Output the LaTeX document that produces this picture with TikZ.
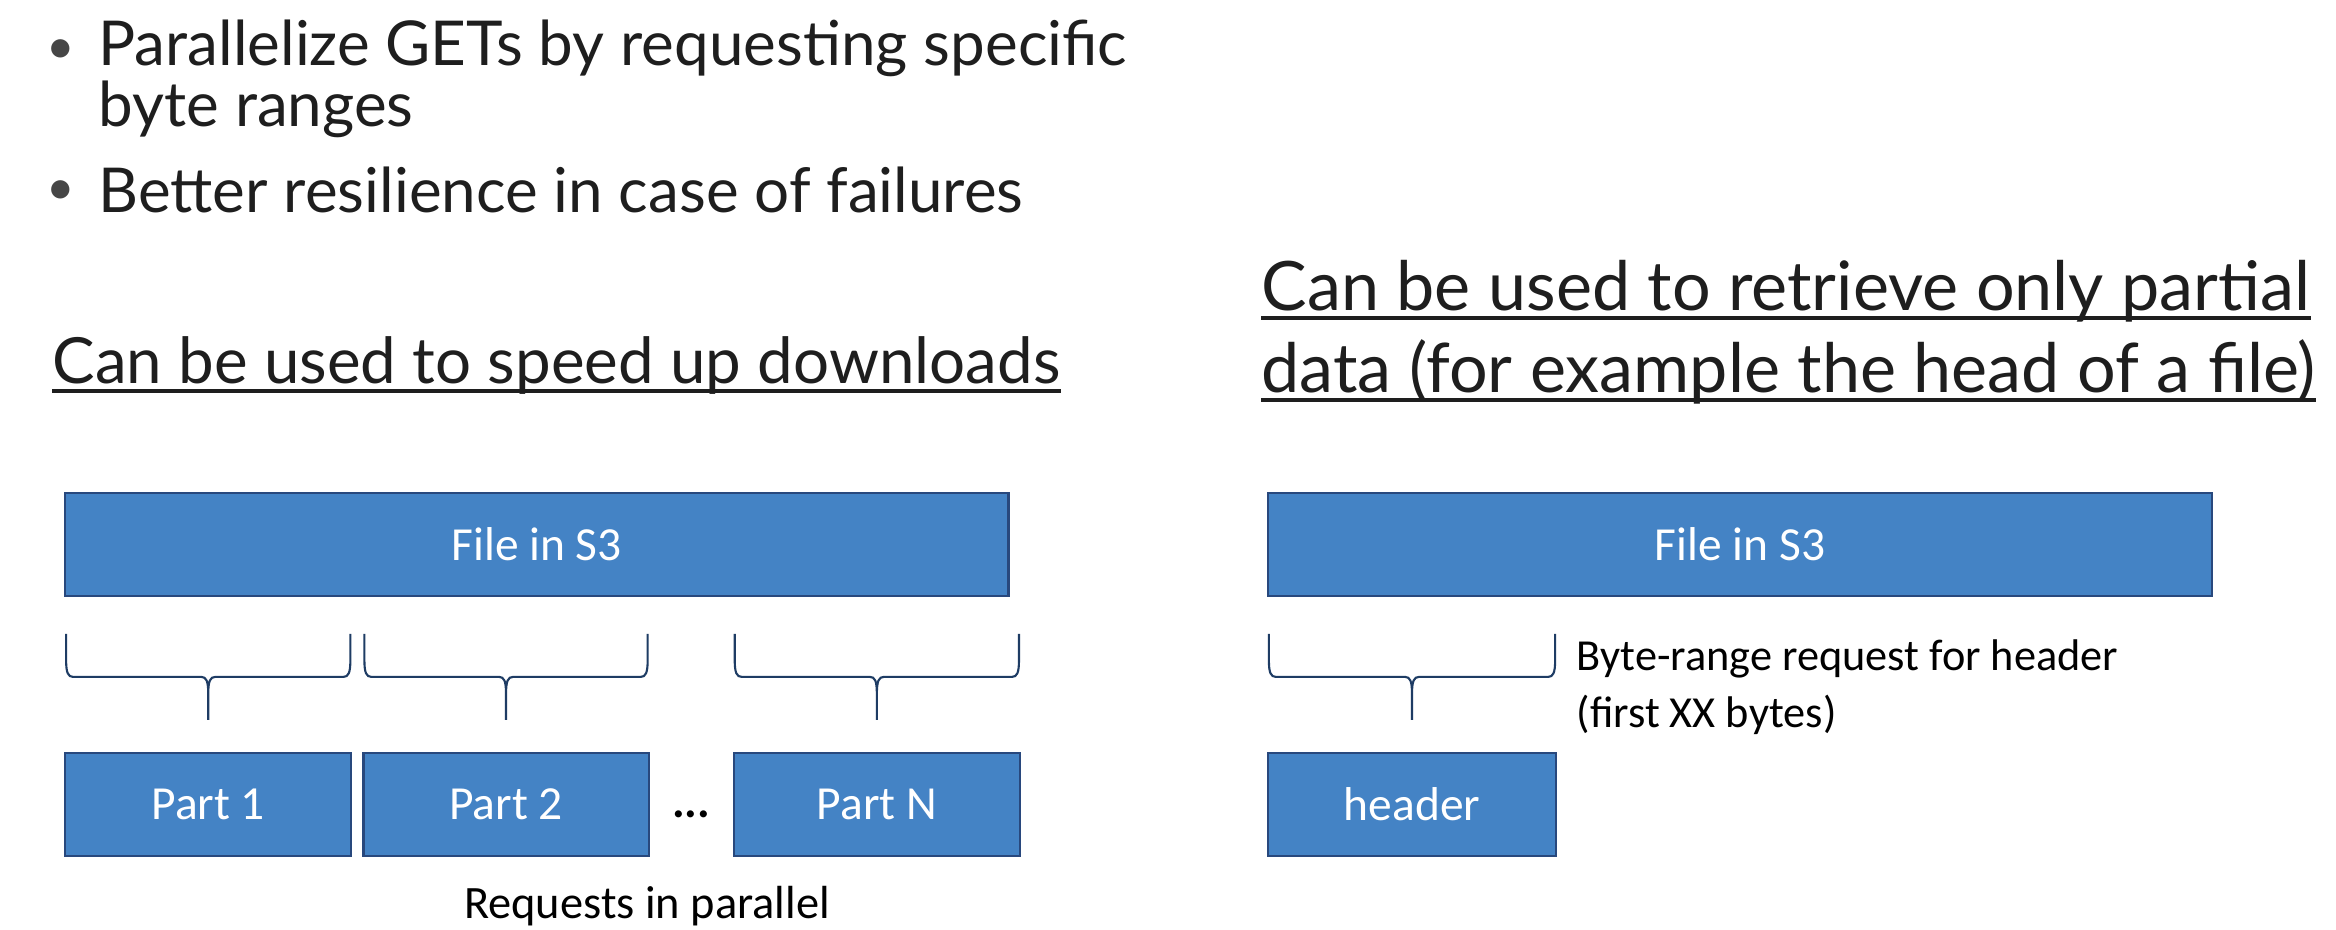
\documentclass[tikz,border=0pt]{standalone}
\usepackage{fontspec}
\setmainfont{Carlito}
\newfontfamily\slidefont{Lato}
\usetikzlibrary{positioning,calc}
\definecolor{boxfill}{RGB}{68,131,197}
\definecolor{boxline}{RGB}{40,72,125}
\definecolor{braceline}{RGB}{30,60,100}
\definecolor{slidetext}{RGB}{30,30,30}
\definecolor{bulletgrey}{RGB}{70,70,70}

\tikzset{
  s3box/.style={draw=boxline, line width=0.6pt, fill=boxfill, text=white,
    minimum height=1.03cm, inner sep=0pt, font=\fontsize{13.5}{16}\selectfont},
  bullettext/.style={anchor=base west, inner sep=0pt, text=slidetext, align=left,
    font=\slidefont\fontsize{17.6}{15.6}\selectfont},
  bulletdot/.style={anchor=base, inner sep=0pt, text=bulletgrey,
    font=\slidefont\fontsize{14}{14}\selectfont},
  headtext/.style={anchor=base west, inner sep=0pt, text=slidetext,
    font=\slidefont\fontsize{18.1}{18}\selectfont},
  bigheadtext/.style={headtext, font=\slidefont\fontsize{19.4}{19}\selectfont},
  ulline/.style={draw=slidetext, line width=1.1pt},
  bracepath/.style={draw=braceline, line width=0.6pt},
  note/.style={anchor=base west, inner sep=0pt, text=black,
    font=\fontsize{13.2}{16}\selectfont}
}

% curly brace standing over a part box
\newcommand{\rangebrace}[1]{%
  \draw[bracepath] let \p1=(#1.north west), \p2=(#1.north east), \p3=(#1.north) in
    (\x1+0.02cm,\y1+1.18cm) -- (\x1+0.02cm,\y1+0.92cm)
    .. controls (\x1+0.02cm,\y1+0.79cm) and (\x1+0.04cm,\y1+0.75cm) .. (\x1+0.09cm,\y1+0.75cm)
    -- (\x3-0.07cm,\y1+0.75cm)
    .. controls (\x3-0.02cm,\y1+0.75cm) and (\x3,\y1+0.71cm) .. (\x3,\y1+0.58cm)
    -- (\x3,\y1+0.32cm) -- (\x3,\y1+0.58cm)
    .. controls (\x3,\y1+0.71cm) and (\x3+0.02cm,\y1+0.75cm) .. (\x3+0.07cm,\y1+0.75cm)
    -- (\x2-0.09cm,\y1+0.75cm)
    .. controls (\x2-0.04cm,\y1+0.75cm) and (\x2-0.02cm,\y1+0.79cm) .. (\x2-0.02cm,\y1+0.92cm)
    -- (\x2-0.02cm,\y1+1.18cm);%
}

\begin{document}
\begin{tikzpicture}[x=0.01cm, y=-0.01cm]
\useasboundingbox[fill=white] (0,0) rectangle (2336,929);

% bullet points
\node[bulletdot] (d1) at (61,63) {\textbullet};
\node[bullettext] (b1) at (98,126) {Parallelize GETs by requesting specific\\byte ranges};
\node[bulletdot] (d2) at (61,204) {\textbullet};
\node[bullettext] (b2) at (98,212) {Better resilience in case of failures};

% headings
\node[headtext] (speed) at (52,383) {Can be used to speed up downloads};
\node[bigheadtext] (partA) at (1261,310) {Can be used to retrieve only partial};
\node[bigheadtext] (partB) at (1261,392) {data (for example the head of a file)};
\foreach \h in {speed,partA,partB}
  \draw[ulline] ($(\h.base west)+(0,8)$) -- ($(\h.base east)+(0,8)$);

% left: parallel parts
\node[s3box, minimum width=9.43cm] (fileL) at (536.75,544.5) {File in S3};
\node[s3box, minimum width=2.86cm] (p1) at (208.25,804.5) {Part 1};
\node[s3box, minimum width=2.85cm, right=0.1cm of p1] (p2) {Part 2};
\node[s3box, minimum width=2.86cm, right=0.83cm of p2] (pN) {Part N};
\node[anchor=base, inner sep=0pt, font=\bfseries\fontsize{13.5}{16}\selectfont]
  (dots) at ($(p2.east)!0.5!(pN.west)+(0,13)$) {...};
\node[note, anchor=base] (req) at (647,918) {Requests in parallel};
\rangebrace{p1}
\rangebrace{p2}
\rangebrace{pN}

% right: header only
\node[s3box, minimum width=9.44cm] (fileR) at (1740,544.5) {File in S3};
\node[s3box, minimum width=2.88cm] (hdr) at (1412,804.5) {header};
\rangebrace{hdr}
\node[note, font=\fontsize{12.6}{16}\selectfont] (brA) at (1576,670) {Byte-range request for header};
\node[note, font=\fontsize{12.6}{16}\selectfont] (brB) at (1576,727) {(first XX bytes)};
\end{tikzpicture}
\end{document}
